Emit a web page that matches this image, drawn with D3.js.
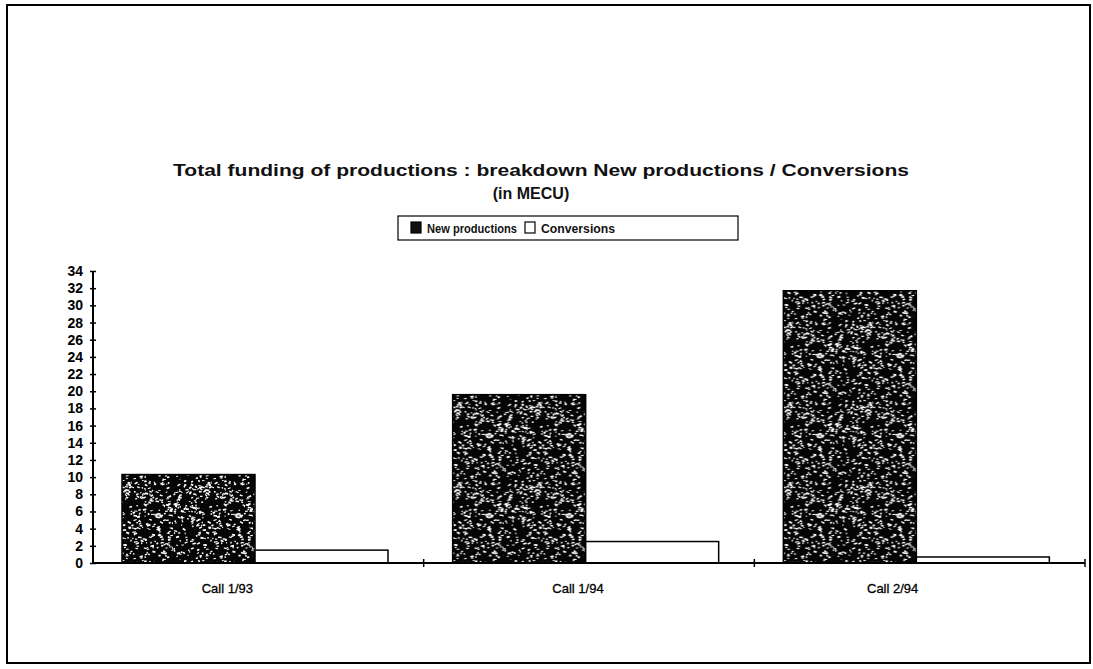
<!DOCTYPE html>
<html>
<head>
<meta charset="utf-8">
<script src="https://cdn.jsdelivr.net/npm/d3@7"></script>
<style>
  html, body { margin: 0; padding: 0; background: #fff; }
  svg { display: block; font-family: "Liberation Sans", Arial, sans-serif; }
</style>
</head>
<body>
<svg id="chart" width="1093" height="669"></svg>
<script>
// ---- data ----
const categories = ["Call 1/93", "Call 1/94", "Call 2/94"];
const seriesNames = ["New productions", "Conversions"];
const newProductions = [10.3, 19.6, 31.7];
const conversions = [1.5, 2.5, 0.7];
const yTicks = [0, 2, 4, 6, 8, 10, 12, 14, 16, 18, 20, 22, 24, 26, 28, 30, 32, 34];
const titleLines = ["Total funding of productions : breakdown New productions / Conversions", "(in MECU)"];

const seriesValues = { "New productions": newProductions, "Conversions": conversions };

const svg = d3.select("#chart");

// texture pattern (deterministic speckles)
const defs = svg.append("defs");
const T = 80;
const pat = defs.append("pattern").attr("id", "speckle").attr("patternUnits", "userSpaceOnUse")
  .attr("width", T).attr("height", T);
pat.append("rect").attr("width", T).attr("height", T).attr("fill", "#050505");
let seed = 987654;
function rnd() { seed = (seed * 1103515245 + 12345) % 2147483648; return seed / 2147483648; }
for (let i = 0; i < 400; i++) {
  const x = rnd() * T, y = rnd() * T, w = 1 + rnd() * 2.6, h = 0.9 + rnd() * 1.0;
  pat.append("rect").attr("x", x).attr("y", y).attr("width", w).attr("height", h)
    .attr("fill", "#fff").attr("transform", `rotate(${(rnd() - 0.5) * 70},${x},${y})`);
}

// frame
svg.append("rect").attr("x", 7).attr("y", 5).attr("width", 1083).attr("height", 658)
  .attr("fill", "none").attr("stroke", "#000").attr("stroke-width", 2);

// scales
const x0 = d3.scaleBand().domain(categories).range([93, 1085]).padding(0);
const x1 = d3.scaleBand().domain(seriesNames).range([29, 29 + 266]).padding(0);
const y = d3.scaleLinear().domain([0, 34]).range([563, 271]);

// title
svg.append("text").attr("x", 541).attr("y", 176).attr("text-anchor", "middle")
  .attr("font-size", 16.5).attr("font-weight", "bold").attr("fill", "#111")
  .attr("textLength", 736).attr("lengthAdjust", "spacingAndGlyphs").text(titleLines[0]);
svg.append("text").attr("x", 531).attr("y", 199).attr("text-anchor", "middle")
  .attr("font-size", 16).attr("font-weight", "bold").attr("fill", "#111").text(titleLines[1]);

// legend
const lg = svg.append("g");
lg.append("rect").attr("x", 398).attr("y", 216).attr("width", 340).attr("height", 24)
  .attr("fill", "#fff").attr("stroke", "#000").attr("stroke-width", 1.2);
const legendX = [411, 525];
const legendTextX = [427, 541];
const legendTextW = [90, 74];
seriesNames.forEach((s, i) => {
  lg.append("rect").attr("x", legendX[i]).attr("y", 222).attr("width", 10).attr("height", 11)
    .attr("fill", i === 0 ? "#111" : "#fff").attr("stroke", "#000").attr("stroke-width", 1.2);
  lg.append("text").attr("x", legendTextX[i]).attr("y", 233).attr("font-size", 13.5)
    .attr("font-weight", "bold").attr("fill", "#111")
    .attr("textLength", legendTextW[i]).attr("lengthAdjust", "spacingAndGlyphs").text(s);
});

// bars
const groups = svg.append("g").selectAll("g").data(categories).join("g")
  .attr("transform", d => `translate(${x0(d)},0)`);
groups.selectAll("rect").data((d, ci) => seriesNames.map(s => ({ s, v: seriesValues[s][ci] })))
  .join("rect")
  .attr("x", d => x1(d.s)).attr("width", x1.bandwidth())
  .attr("y", d => y(d.v)).attr("height", d => y(0) - y(d.v))
  .attr("fill", d => d.s === "New productions" ? "url(#speckle)" : "#fff")
  .attr("stroke", "#000").attr("stroke-width", 1.5);

// y axis
const yAxis = svg.append("g").attr("transform", "translate(93,0)")
  .call(d3.axisLeft(y).tickValues(yTicks).tickSize(3).tickPadding(7));
yAxis.select(".domain").attr("stroke-width", 2).attr("d", `M0,${y(34)}V${y(0)}`);
yAxis.selectAll(".tick line").attr("x1", -3).attr("x2", 3).attr("stroke-width", 1.5);
yAxis.selectAll(".tick text").attr("font-size", 14).attr("font-weight", "bold")
  .attr("font-family", "'Liberation Sans', Arial, sans-serif").attr("fill", "#000");

// x axis
const xg = svg.append("g");
xg.append("line").attr("x1", 93).attr("x2", 1085).attr("y1", y(0)).attr("y2", y(0))
  .attr("stroke", "#000").attr("stroke-width", 2);
categories.forEach(c => {
  const bx = x0(c) + x0.bandwidth();
  xg.append("line").attr("x1", bx).attr("x2", bx).attr("y1", y(0) - 4).attr("y2", y(0) + 4)
    .attr("stroke", "#000").attr("stroke-width", 1.5);
});
const labelOffset = [-31, -11, -27];
categories.forEach((c, i) => {
  xg.append("text").attr("x", x0(c) + x0.bandwidth() / 2 + labelOffset[i]).attr("y", 593)
    .attr("text-anchor", "middle").attr("font-size", 13).attr("fill", "#000")
    .attr("stroke", "#000").attr("stroke-width", 0.3).text(c);
});
</script>
</body>
</html>
